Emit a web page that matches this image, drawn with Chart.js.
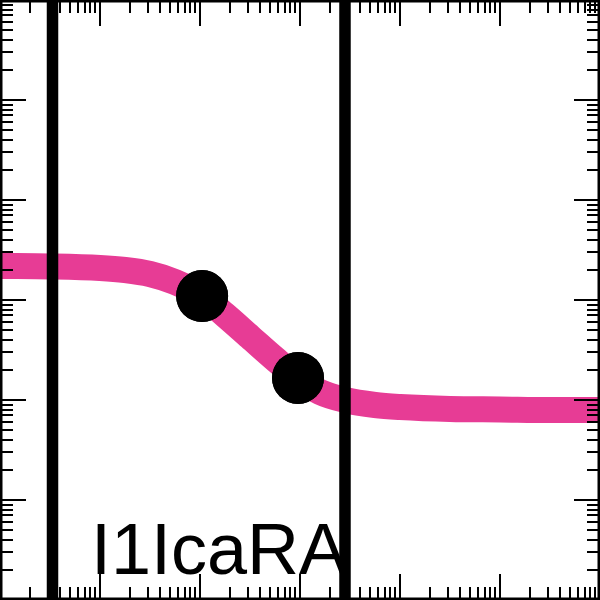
<!DOCTYPE html>
<html>
<head>
<meta charset="utf-8">
<script src="https://cdn.jsdelivr.net/npm/chart.js@4/dist/chart.umd.min.js"></script>
<style>
html,body{margin:0;padding:0;background:#fff;}
#wrap{width:600px;height:600px;}
</style>
</head>
<body>
<div id="wrap"><canvas id="c" width="600" height="600"></canvas></div>
<script>
// Fitted curve (log-log)
const curveX = [1, 3.16, 10, 17.8, 31.6, 56.2, 105, 178, 316, 562, 955, 1585, 2818, 5623, 10000, 31623, 100000, 316228, 1000000];
const curveY = [2188, 2163, 2089, 1995, 1820, 1514, 1096, 708, 427, 257, 166, 120, 100, 89.1, 85.1, 81.3, 80.4, 79.4, 79.4];
// Measured points
const pointsX = [105, 955];
const pointsY = [1096, 166];
// Vertical reference lines
const vlineX = [3.35, 2818];
// Axis ranges
const xRange = [1, 1000000];
const yRange = [1, 1000000];
// Label
const labelText = "I1IcaRA";

const ticksPlugin = {
  id: 'frameTicks',
  afterDatasetsDraw(chart) {
    const ctx = chart.ctx;
    const xs = chart.scales.x, ys = chart.scales.y;
    const a = chart.chartArea;
    ctx.save();
    ctx.fillStyle = '#000';
    ctx.strokeStyle = '#000';
    // label
    ctx.font = '72px "Liberation Sans", Arial, sans-serif';
    ctx.textBaseline = 'alphabetic';
    ctx.textAlign = 'left';
    ctx.fillText(labelText, 91, 574);
    // vertical lines
    ctx.lineWidth = 11.5;
    vlineX.forEach(v => {
      const px = xs.getPixelForValue(v);
      ctx.beginPath();
      ctx.moveTo(px, a.top);
      ctx.lineTo(px, a.bottom);
      ctx.stroke();
    });
    // ticks
    ctx.lineWidth = 2;
    const tickVals = (lo, hi) => {
      const out = [];
      for (let d = Math.round(Math.log10(lo)); Math.pow(10, d) <= hi; d++) {
        for (let k = 1; k <= 9; k++) {
          const v = k * Math.pow(10, d);
          if (v >= lo && v <= hi) out.push({v, major: k === 1});
        }
      }
      return out;
    };
    tickVals(xRange[0], xRange[1]).forEach(t => {
      const px = Math.round(xs.getPixelForValue(t.v));
      const L = t.major ? 26 : 13;
      ctx.beginPath();
      ctx.moveTo(px, a.top); ctx.lineTo(px, a.top + L);
      ctx.moveTo(px, a.bottom); ctx.lineTo(px, a.bottom - L);
      ctx.stroke();
    });
    tickVals(yRange[0], yRange[1]).forEach(t => {
      const py = Math.round(ys.getPixelForValue(t.v));
      const L = t.major ? 26 : 13;
      ctx.beginPath();
      ctx.moveTo(a.left, py); ctx.lineTo(a.left + L, py);
      ctx.moveTo(a.right, py); ctx.lineTo(a.right - L, py);
      ctx.stroke();
    });
    // frame
    ctx.lineWidth = 2.5;
    ctx.strokeRect(a.left + 1.25, a.top + 1.25, (a.right - a.left) - 2.5, (a.bottom - a.top) - 2.5);
    ctx.restore();
  }
};

const pointsPlugin = {
  id: 'pointsOnTop',
  afterDraw(chart) {
    const meta = chart.getDatasetMeta(0);
    const ctx = chart.ctx;
    ctx.save();
    ctx.fillStyle = '#000';
    meta.data.forEach(el => {
      ctx.beginPath();
      ctx.arc(el.x, el.y, 26, 0, Math.PI * 2);
      ctx.fill();
    });
    ctx.restore();
  }
};

new Chart(document.getElementById('c'), {
  type: 'scatter',
  data: {
    datasets: [
      {
        label: 'points',
        data: pointsX.map((x, i) => ({x, y: pointsY[i]})),
        backgroundColor: '#000',
        borderWidth: 0,
        pointRadius: 26,
        showLine: false
      },
      {
        label: 'fit',
        data: curveX.map((x, i) => ({x, y: curveY[i]})),
        borderColor: '#e73c95',
        borderWidth: 26,
        borderCapStyle: 'butt',
        pointRadius: 0,
        showLine: true,
        cubicInterpolationMode: 'monotone',
        fill: false
      }
    ]
  },
  options: {
    responsive: false,
    animation: false,
    layout: { padding: 0, autoPadding: false },
    plugins: { legend: { display: false }, tooltip: { enabled: false } },
    scales: {
      x: { type: 'logarithmic', min: xRange[0], max: xRange[1], display: false },
      y: { type: 'logarithmic', min: yRange[0], max: yRange[1], display: false }
    }
  },
  plugins: [ticksPlugin, pointsPlugin]
});
</script>
</body>
</html>
